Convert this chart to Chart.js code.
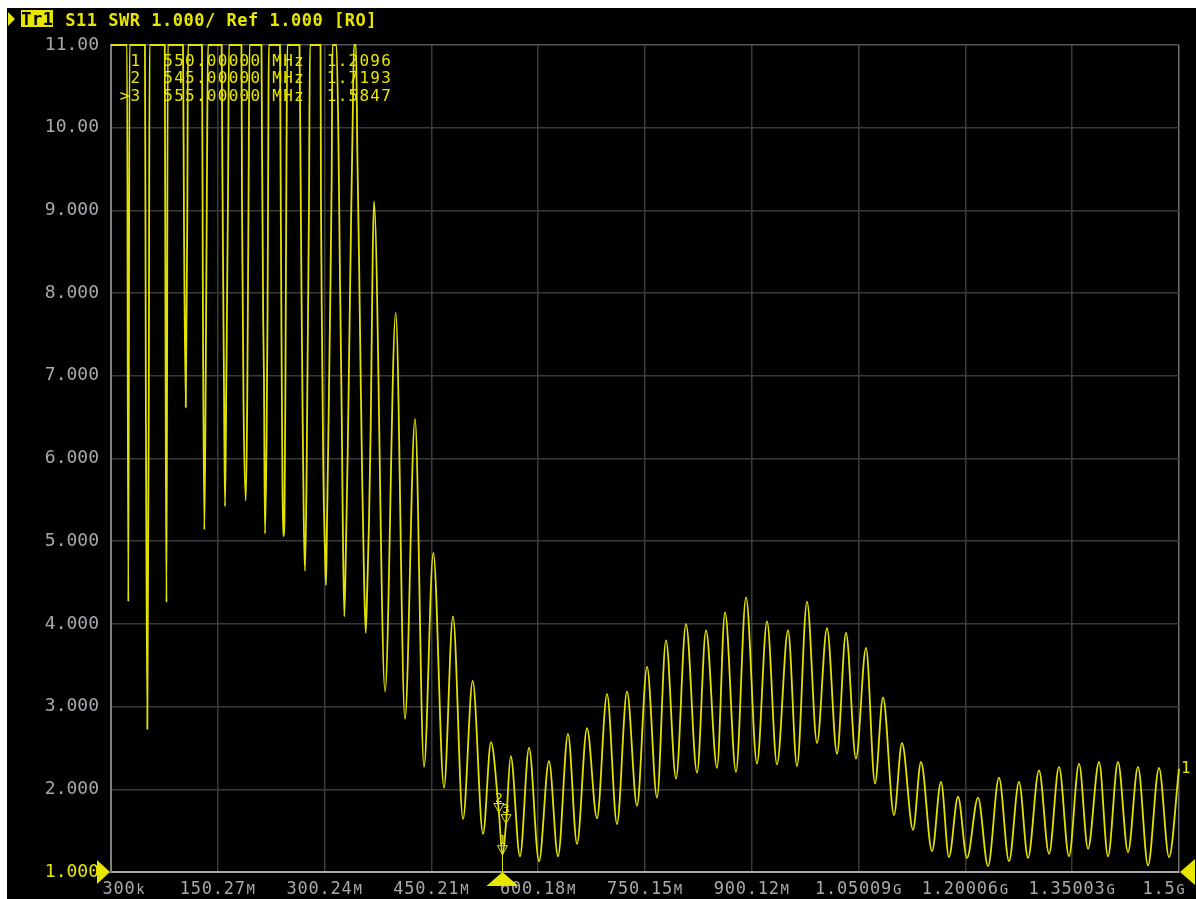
<!DOCTYPE html>
<html><head><meta charset="utf-8">
<script src="https://cdn.jsdelivr.net/npm/chart.js@4.4.1/dist/chart.umd.min.js"></script>
<style>
html,body{margin:0;padding:0;background:#fff;width:1196px;height:899px;overflow:hidden}
#wrap{position:absolute;left:7px;top:8px;width:1189px;height:891px;background:#000}
canvas{display:block}
</style></head><body>
<div id="wrap"><canvas id="c" width="1189" height="891"></canvas></div>
<script>
// ---- data (frequency in MHz, SWR; values >= 11 shown clipped at 11) ----
const freqMHz = [
 0.3, 22.8, 24.6, 26.4, 48.0, 49.2, 51.3, 53.4, 54.5, 75.8, 76.8, 78.2, 80.1,
 101.4, 102.8, 105.3, 107.4, 108.4, 128.1, 129.2, 131.3, 133.0, 135.1, 136.5,
 155.7, 156.6, 159.0, 160.4, 162.2, 164.6, 166.0, 183.5, 184.3, 186.4, 189.6, 191.6, 193.4, 194.8,
 211.6, 212.3, 214.0, 215.1, 216.5, 218.7, 220.1, 221.2, 221.9,
 237.6, 238.5, 239.7, 241.1, 242.2, 243.9, 245.3, 246.7, 247.9,
 265.0, 266.0, 267.8, 269.5, 271.0, 272.7, 274.8, 276.2, 278.3, 279.7,
 294.5, 295.2, 296.6, 298.4, 300.8, 302.2, 303.3, 305.4, 307.8, 310.2, 311.3,
 316.9, 319.5, 321.9, 324.3, 325.7, 327.9, 330.3, 332.7, 334.9, 337.3, 339.7, 341.5,
 344.3, 346.2, 348.5, 350.9, 353.2, 355.6, 358.0, 360.2, 362.6, 365.0, 366.4, 367.8, 369.6,
 385.1, 400.1, 413.1, 427.2, 439.8, 452.9, 467.9, 480.5, 494.6, 508.2, 522.7, 533.9,
 545.0, 550.0, 555.0, 561.6, 574.6, 587.3, 601.3, 615.3, 628.0, 642.0, 654.7, 668.7,
 682.7, 696.8, 710.8, 724.9, 738.9, 753.0, 767.0, 779.6, 793.7, 807.7, 823.2, 835.8,
 851.3, 862.5, 877.9, 892.0, 907.4, 921.5, 935.5, 951.0, 963.6, 977.6, 991.7, 1005.7,
 1019.8, 1032.4, 1046.4, 1060.5, 1073.1, 1084.4, 1099.8, 1111.0, 1126.5, 1137.7, 1153.2, 1165.8,
 1177.0, 1189.7, 1202.3, 1217.8, 1231.8, 1247.2, 1261.3, 1275.3, 1288.0, 1303.4, 1317.5, 1331.5,
 1345.5, 1359.6, 1372.2, 1387.7, 1400.3, 1414.3, 1428.4, 1442.4, 1456.5, 1471.9, 1486.0, 1500.0
];
const swr = [
 11, 11, 4.27, 11, 11, 6.9, 2.73, 6.9, 11, 11, 7.63, 4.26, 11,
 11, 8.82, 6.62, 8.85, 11, 11, 8.2, 5.14, 6.6, 9.5, 11,
 11, 9.6, 6.85, 5.42, 6.9, 9.18, 11, 11, 9.0, 6.68, 5.49, 6.7, 9.1, 11,
 11, 9.9, 7.69, 6.97, 5.09, 6.19, 7.7, 9.9, 11,
 11, 9.38, 7.5, 5.68, 5.06, 5.26, 7.04, 9.64, 11,
 11, 10.0, 8.0, 6.42, 5.26, 4.64, 5.67, 7.04, 9.05, 11,
 11, 9.0, 7.51, 5.87, 4.86, 4.47, 5.03, 6.23, 7.68, 9.4, 11,
 11, 9.96, 8.14, 6.52, 5.29, 4.09, 4.97, 6.07, 7.37, 8.8, 10.09, 11,
 11, 9.7, 8.47, 6.98, 5.67, 4.57, 3.89, 4.45, 5.23, 6.39, 7.43, 8.47, 9.11,
 3.18, 7.76, 2.85, 6.48, 2.27, 4.86, 2.02, 4.09, 1.64, 3.31, 1.46, 2.57,
 1.7193, 1.2096, 1.5847, 2.40, 1.19, 2.50, 1.13, 2.34, 1.19, 2.67, 1.34, 2.74,
 1.65, 3.15, 1.58, 3.18, 1.80, 3.48, 1.90, 3.80, 2.13, 4.00, 2.20, 3.92,
 2.26, 4.14, 2.21, 4.32, 2.31, 4.03, 2.30, 3.92, 2.28, 4.27, 2.56, 3.95,
 2.43, 3.89, 2.37, 3.71, 2.07, 3.11, 1.69, 2.56, 1.51, 2.33, 1.25, 2.09,
 1.18, 1.91, 1.17, 1.90, 1.07, 2.14, 1.13, 2.09, 1.17, 2.23, 1.22, 2.27,
 1.19, 2.31, 1.28, 2.33, 1.19, 2.33, 1.24, 2.27, 1.08, 2.26, 1.18, 2.25
];
const xTickValues = [0.3, 150.27, 300.24, 450.21, 600.18, 750.15, 900.12, 1050.09, 1200.06, 1350.03, 1500];
const xTickLabels = ['300k', '150.27M', '300.24M', '450.21M', '600.18M', '750.15M', '900.12M', '1.05009G', '1.20006G', '1.35003G', '1.5G'];
const yTickValues = [1, 2, 3, 4, 5, 6, 7, 8, 9, 10, 11];
const yTickLabels = ['1.000', '2.000', '3.000', '4.000', '5.000', '6.000', '7.000', '8.000', '9.000', '10.00', '11.00'];
const markerNames = ['1', '2', '3'];
const markerFreqMHz = [550, 545, 555];
const markerSWR = [1.2096, 1.7193, 1.5847];
const activeMarker = 2;
const traceName = 'Tr1';
const traceTitle = 'S11 SWR 1.000/ Ref 1.000 [RO]';
const traceEndLabel = '1';

const YEL = '#e6e600';
const GRAY_TXT = '#a6a9ad';
const MONO = '"DejaVu Sans Mono", "Liberation Mono", monospace';

function drawMono(ctx, text, left, baseY, cell, font, color, smallFont) {
  ctx.save();
  ctx.fillStyle = color;
  ctx.textAlign = 'center';
  ctx.textBaseline = 'alphabetic';
  for (let i = 0; i < text.length; i++) {
    const ch = text[i];
    ctx.font = (smallFont && /[MGk]/.test(ch)) ? smallFont : font;
    ctx.fillText(ch, left + cell * (i + 0.5), baseY);
  }
  ctx.restore();
}

const overlay = {
  id: 'overlay',
  afterDraw(chart) {
    const ctx = chart.ctx, ca = chart.chartArea;
    const xs = chart.scales.x, ys = chart.scales.y;

    // header
    ctx.save();
    ctx.fillStyle = YEL;
    ctx.beginPath(); ctx.moveTo(1, 4); ctx.lineTo(8, 11); ctx.lineTo(1, 18); ctx.closePath(); ctx.fill();
    ctx.fillRect(14, 2, 32, 17);
    ctx.restore();
    drawMono(ctx, traceName, 14, 17, 10.7, 'bold 17px ' + MONO, '#000');
    drawMono(ctx, traceTitle, 58, 18, 10.75, 'bold 17px ' + MONO, YEL);

    // marker table
    const rowBase = [57.7, 75.3, 93];
    for (let i = 0; i < markerNames.length; i++) {
      const pre = (i === activeMarker ? '>' : ' ') + markerNames[i];
      const line = pre + '  ' + markerFreqMHz[i].toFixed(5) + ' MHz  ' + markerSWR[i].toFixed(4);
      drawMono(ctx, line, 112, rowBase[i], 10.9, '16px ' + MONO, YEL);
    }

    // x tick labels
    const cell = 11;
    for (let i = 0; i < xTickValues.length; i++) {
      const txt = xTickLabels[i];
      const w = txt.length * cell;
      const px = xs.getPixelForValue(xTickValues[i]);
      let left = px - w / 2;
      if (i === 0) left = px - 9;
      if (i === xTickValues.length - 1) left = ca.right + 7 - w;
      drawMono(ctx, txt, left, ca.bottom + 22, cell, '17px ' + MONO, GRAY_TXT, '14px ' + MONO);
    }

    // reference level triangles
    const y1 = ys.getPixelForValue(1);
    ctx.save();
    ctx.fillStyle = YEL;
    ctx.beginPath(); ctx.moveTo(ca.left - 1, y1); ctx.lineTo(ca.left - 14, y1 - 12); ctx.lineTo(ca.left - 14, y1 + 12); ctx.closePath(); ctx.fill();
    ctx.beginPath(); ctx.moveTo(ca.right + 1, y1); ctx.lineTo(ca.right + 16, y1 - 13); ctx.lineTo(ca.right + 16, y1 + 13); ctx.closePath(); ctx.fill();

    // stimulus marker triangle at bottom
    const mx = xs.getPixelForValue(markerFreqMHz[0]);
    ctx.beginPath(); ctx.moveTo(mx, ca.bottom); ctx.lineTo(mx - 16, ca.bottom + 14); ctx.lineTo(mx + 16, ca.bottom + 14); ctx.closePath(); ctx.fill();

    // markers on trace
    ctx.strokeStyle = YEL; ctx.lineWidth = 1;
    ctx.beginPath(); ctx.moveTo(mx, ca.bottom); ctx.lineTo(mx, ys.getPixelForValue(markerSWR[0])); ctx.stroke();
    for (let i = 0; i < markerNames.length; i++) {
      const px = xs.getPixelForValue(markerFreqMHz[i]);
      const py = ys.getPixelForValue(markerSWR[i]);
      ctx.beginPath(); ctx.moveTo(px, py); ctx.lineTo(px - 5, py - 9); ctx.lineTo(px + 5, py - 9); ctx.closePath(); ctx.stroke();
      ctx.font = '13px ' + MONO; ctx.fillStyle = YEL; ctx.textAlign = 'center'; ctx.textBaseline = 'alphabetic';
      ctx.fillText(markerNames[i], px, py - 11);
    }
    // trace end label
    const ly = ys.getPixelForValue(swr[swr.length - 1]);
    ctx.font = '16px ' + MONO; ctx.textAlign = 'left';
    ctx.fillText(traceEndLabel, ca.right + 2, ly + 4);
    ctx.restore();
  }
};

const points = freqMHz.map((f, i) => ({ x: f, y: swr[i] }));

new Chart(document.getElementById('c'), {
  type: 'line',
  data: { datasets: [{
    data: points,
    borderColor: '#e2e200',
    borderWidth: 1.8,
    pointRadius: 0,
    cubicInterpolationMode: 'monotone',
    fill: false,
    clip: 3
  }]},
  options: {
    responsive: false,
    devicePixelRatio: 1,
    animation: false,
    parsing: false,
    layout: { padding: { top: 37, right: 17, left: 0, bottom: 0 } },
    plugins: { legend: { display: false }, tooltip: { enabled: false } },
    scales: {
      x: {
        type: 'linear', min: 0.3, max: 1500,
        afterBuildTicks: s => { s.ticks = xTickValues.map(v => ({ value: v })); },
        afterFit: s => { s.height = 27; },
        ticks: { display: false },
        grid: {
          drawTicks: false, lineWidth: 1.5,
          color: c => (c.tick && c.tick.value === 1500) ? '#707070' : '#3a3a3a'
        },
        border: { color: '#a8a8a8', width: 2 }
      },
      y: {
        type: 'linear', min: 1, max: 11,
        afterBuildTicks: s => { s.ticks = yTickValues.map(v => ({ value: v })); },
        afterFit: s => { s.width = 104; },
        ticks: {
          padding: 12,
          font: { family: MONO, size: 18 },
          color: c => (c.tick && c.tick.value === 1) ? YEL : GRAY_TXT,
          callback: (v, i) => yTickLabels[i]
        },
        grid: {
          drawTicks: false, lineWidth: 1.5,
          color: c => (c.tick && c.tick.value === 11) ? '#555555' : '#3a3a3a'
        },
        border: { color: '#808080', width: 2 }
      }
    }
  },
  plugins: [overlay]
});
</script>
</body></html>
